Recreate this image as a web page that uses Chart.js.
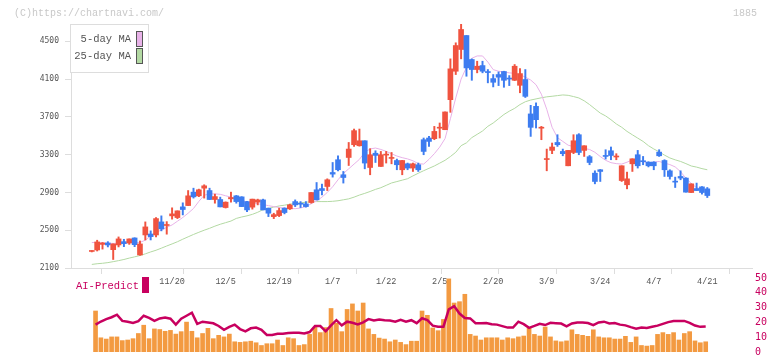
<!DOCTYPE html>
<html><head><meta charset="utf-8">
<script src="https://cdn.jsdelivr.net/npm/chart.js@4.4.1/dist/chart.umd.min.js"></script>
<style>
html,body{margin:0;padding:0;background:#fff;}
#wrap{position:relative;width:772px;height:361px;overflow:hidden;}
canvas{position:absolute;left:0;top:0;}
</style></head><body>
<div id="wrap"><canvas id="cTop" width="772" height="361"></canvas><canvas id="cBot" width="772" height="361"></canvas></div>
<script>
// ---- data ----
const dates = ['10/29','10/30','10/31','11/4','11/5','11/6','11/7','11/10','11/11','11/12','11/13','11/14','11/17','11/18','11/19','11/20','11/21','11/25','11/26','11/27','11/28','12/1','12/2','12/3','12/4','12/5','12/8','12/9','12/10','12/11','12/12','12/15','12/16','12/17','12/18','12/19','12/22','12/23','12/24','12/25','12/26','12/29','12/30','1/5','1/6','1/7','1/8','1/9','1/13','1/14','1/15','1/16','1/19','1/20','1/21','1/22','1/23','1/26','1/27','1/28','1/29','1/30','2/2','2/3','2/4','2/5','2/6','2/9','2/10','2/12','2/13','2/16','2/17','2/18','2/19','2/20','2/24','2/25','2/26','2/27','3/2','3/3','3/4','3/5','3/6','3/9','3/10','3/11','3/12','3/13','3/16','3/17','3/18','3/19','3/23','3/24','3/25','3/26','3/27','3/30','3/31','4/1','4/2','4/3','4/6','4/7','4/8','4/9','4/10','4/13','4/14','4/15','4/16','4/17','4/20','4/21'];
const tickLabels = ['11/20','12/5','12/19','1/7','1/22','2/5','2/20','3/9','3/24','4/7','4/21'];
const priceTicks = [2100,2500,2900,3300,3700,4100,4500];
const volTicks = [0,10,20,30,40,50];

const opens  = [2275,2291,2350,2365,2294,2344,2379,2365,2418,2238,2450,2460,2450,2588,2550,2652,2634,2747,2761,2903,2864,2945,2920,2825,2825,2740,2832,2864,2853,2803,2744,2797,2821,2733,2644,2655,2733,2726,2803,2782,2779,2793,2928,2941,2963,3111,3246,3087,3270,3405,3394,3447,3164,3315,3175,3295,3260,3238,3140,3203,3158,3193,3458,3476,3469,3580,3564,3882,4183,4413,4561,4307,4201,4243,4175,4105,4148,4180,4105,4087,4034,4095,3731,3811,3580,3248,3345,3429,3334,3182,3323,3511,3345,3278,3104,3140,3291,3341,3275,3026,2981,3203,3299,3230,3221,3221,3327,3238,3129,3012,3069,3052,2899,2941,2959,2938];
const highs  = [2285,2394,2370,2379,2355,2429,2404,2408,2420,2386,2588,2493,2634,2652,2591,2737,2705,2790,2920,2945,2935,2981,2945,2882,2850,2800,2903,2868,2855,2806,2829,2829,2829,2735,2680,2733,2737,2776,2821,2803,2803,2899,3005,2988,3044,3217,3288,3122,3429,3571,3571,3447,3363,3341,3334,3334,3323,3253,3240,3211,3211,3211,3476,3493,3599,3635,3752,4314,4484,4680,4561,4314,4289,4289,4201,4148,4176,4183,4137,4254,4211,4201,3822,3848,3599,3359,3423,3511,3359,3345,3511,3522,3394,3291,3129,3143,3352,3381,3310,3182,3115,3256,3345,3281,3225,3225,3352,3246,3140,3062,3129,3055,2991,2999,2962,2952];
const lows   = [2270,2280,2300,2323,2190,2323,2326,2350,2326,2235,2397,2397,2429,2493,2458,2617,2623,2662,2761,2840,2855,2840,2825,2786,2747,2735,2797,2786,2750,2697,2723,2768,2715,2644,2623,2644,2673,2719,2750,2740,2744,2786,2821,2874,2920,3062,3129,2999,3185,3387,3390,3150,3087,3217,3175,3211,3203,3140,3087,3140,3122,3122,3299,3387,3458,3476,3564,3748,4148,4314,4130,4087,4166,4166,4060,4017,4031,4013,4031,4084,3955,3905,3493,3582,3458,3129,3310,3387,3288,3182,3310,3299,3281,3193,2991,3016,3253,3246,3246,3016,2938,3122,3158,3193,3170,3140,3281,3069,3041,2952,3034,2903,2899,2920,2882,2846];
const closes = [2280,2376,2365,2344,2355,2408,2358,2408,2347,2355,2535,2432,2623,2514,2560,2673,2705,2719,2864,2853,2928,2970,2825,2856,2747,2797,2846,2803,2750,2715,2829,2821,2715,2680,2665,2708,2687,2768,2768,2775,2750,2899,2821,2920,3034,3094,3140,3058,3359,3554,3447,3211,3299,3292,3299,3300,3265,3193,3238,3158,3203,3140,3334,3440,3546,3590,3752,4208,4455,4625,4218,4201,4236,4183,4169,4066,4120,4087,4100,4236,4158,3917,3589,3670,3590,3253,3381,3405,3310,3345,3447,3323,3394,3217,3016,3122,3281,3291,3281,3182,3044,3256,3182,3225,3182,3182,3288,3140,3069,3009,3052,2903,2991,2920,2899,2867];

const ma5  = [2370,2370,2365,2362,2360,2362,2365,2366,2368,2370,2395,2440,2480,2500,2530,2556,2595,2635,2680,2730,2805,2870,2885,2885,2880,2865,2850,2830,2815,2800,2790,2780,2772,2760,2750,2740,2735,2730,2728,2735,2750,2780,2810,2850,2900,2960,3034,3100,3150,3200,3250,3325,3360,3370,3355,3335,3310,3285,3268,3255,3235,3205,3200,3250,3310,3380,3470,3680,3900,4100,4225,4320,4345,4345,4280,4200,4183,4175,4166,4160,4148,4120,4090,4040,3940,3780,3590,3480,3440,3400,3385,3375,3365,3355,3325,3280,3240,3215,3205,3200,3220,3245,3235,3225,3215,3220,3228,3210,3195,3170,3120,3050,2995,2950,2935,2920];
const ma25 = [2138,2145,2150,2157,2167,2178,2190,2205,2218,2232,2250,2270,2288,2310,2333,2355,2378,2405,2430,2455,2478,2500,2520,2543,2563,2580,2597,2625,2640,2652,2668,2690,2718,2730,2745,2757,2765,2775,2784,2790,2796,2802,2803,2803,2803,2806,2812,2822,2832,2850,2872,2890,2910,2932,2950,2975,3000,3015,3030,3045,3075,3103,3130,3155,3180,3210,3240,3280,3325,3395,3425,3480,3515,3550,3600,3635,3680,3725,3760,3790,3830,3860,3878,3890,3902,3912,3918,3925,3932,3928,3915,3900,3870,3830,3785,3740,3710,3670,3625,3590,3546,3510,3475,3440,3395,3360,3330,3295,3265,3245,3228,3205,3180,3168,3152,3140];

const volume = [null,27.7,9.6,8.75,10.2,10.2,7.7,8.1,9.0,12.5,18.1,9.0,15.6,15.2,14.0,14.6,12.1,13.75,20.2,14.0,9.6,12.5,16.0,9.0,11.25,10.2,12.1,6.9,6.5,6.9,7.3,6.25,4.4,5.6,5.6,8.1,4.4,9.6,9.0,4.4,5.0,11.9,16.7,13.1,16.5,29.4,19.4,13.75,28.75,32.5,27.7,33.1,15.6,11.9,9.4,8.75,6.9,8.1,6.5,5.0,7.3,7.3,27.7,24.8,16.25,14.4,22.0,49.4,33.1,34.0,39.0,11.9,10.8,8.1,9.6,9.6,9.6,8.1,9.6,9.0,10.2,10.8,16.25,11.9,10.8,16.9,10.2,7.5,6.9,7.5,15.0,11.9,11.25,10.6,15.0,10.2,9.6,9.6,8.75,8.75,10.6,6.5,10.2,4.4,4.0,4.4,11.9,13.1,11.9,13.1,8.1,12.5,13.75,7.5,6.25,6.9];
const aiPredict = [null,18.5,20.6,22.2,23.5,25.2,21,20.4,19.6,20.8,24.5,23,21,22.7,23.3,22.5,18.5,22.5,24.5,26.5,19,20.5,20.0,19.4,17.6,15,17,18.5,15.5,14,16,16.5,15,11.5,11.5,12.3,12.3,12.8,13,13,12.5,13.5,17.5,17.5,14,18,21.5,18,20.5,19.8,18.6,20,22.2,21.3,22,21.5,21.3,20.5,21.8,20.5,21.5,19.5,22.8,21.5,17.8,17.1,17.1,28.8,31,26,23,22.7,19.5,19.5,19.6,18.7,18.5,17.5,16.5,16.5,20.5,18.8,16.3,17.6,19,18.2,19.7,19.5,19.2,17.4,19.3,20,20,19.6,18.2,20,20.5,19.3,19.6,18.5,18,16.8,15.8,16.6,16.2,17,17.8,19,20.2,20.9,21,21,19.7,17.9,17,17.2];

// ---- style ----
const RED = '#f0533f', BLUE = '#3d7cf0';
const PINK = '#e8b2e8', GREEN = '#b3d9a3';
const CRIMSON = '#c8005f', ORANGE = '#f39a41';
const MONO = '"Liberation Mono", "DejaVu Sans Mono", monospace';
const MONO2 = '"DejaVu Sans Mono", monospace';
const XMIN = -3.886, XMAX = 123.35;
const labelIdx = tickLabels.map(l => dates.indexOf(l));
const candleColors = closes.map((c, i) => c >= opens[i] ? RED : BLUE);

const textPlugin = {
  id: 'texts',
  afterDraw(chart) {
    const ctx = chart.ctx;
    ctx.save();
    ctx.textBaseline = 'middle';
    ctx.font = '10px ' + MONO;
    ctx.fillStyle = '#c8c8c8';
    ctx.textAlign = 'left';
    ctx.fillText('(C)https://chartnavi.com/', 14, 13);
    ctx.textAlign = 'right';
    ctx.fillText('1885', 757, 13);
    // MA legend
    ctx.fillStyle = '#fff';
    ctx.fillRect(70.5, 24.5, 78, 48);
    ctx.strokeStyle = '#dddddd';
    ctx.lineWidth = 1;
    ctx.strokeRect(70.5, 24.5, 78, 48);
    ctx.font = '10.5px ' + MONO;
    ctx.fillStyle = '#555';
    ctx.textAlign = 'right';
    ctx.fillText('5-day MA', 131, 39);
    ctx.fillText('25-day MA', 131, 56);
    ctx.strokeStyle = '#555';
    ctx.fillStyle = PINK;
    ctx.fillRect(136.5, 31.5, 6, 15); ctx.strokeRect(136.5, 31.5, 6, 15);
    ctx.fillStyle = GREEN;
    ctx.fillRect(136.5, 48.5, 6, 15); ctx.strokeRect(136.5, 48.5, 6, 15);
    // AI-Predict legend
    ctx.font = '10.5px ' + MONO;
    ctx.textAlign = 'left';
    ctx.fillStyle = CRIMSON;
    ctx.fillText('AI-Predict', 76, 286);
    ctx.fillRect(142, 277, 7, 16);
    ctx.restore();
  }
};

new Chart(document.getElementById('cTop'), {
  type: 'bar',
  data: {
    datasets: [
      { type: 'line', label: '5-day MA', data: ma5.map((v, i) => ({x: i, y: v})), borderColor: PINK, borderWidth: 1, pointRadius: 0, tension: 0, order: 5 },
      { type: 'line', label: '25-day MA', data: ma25.map((v, i) => ({x: i, y: v})), borderColor: GREEN, borderWidth: 1, pointRadius: 0, tension: 0, order: 6 },
      { label: 'wick', data: lows.map((v, i) => ({x: i, y: [v, highs[i]]})), backgroundColor: candleColors, barThickness: 1.3, grouped: false, order: 2 },
      { label: 'body', data: opens.map((v, i) => ({x: i, y: [v, closes[i]]})), backgroundColor: candleColors, barThickness: 5, minBarLength: 1, grouped: false, order: 1 }
    ]
  },
  options: {
    responsive: false, animation: false, events: [],
    layout: { padding: { top: 24, right: 20, left: 0, bottom: 0 } },
    plugins: { legend: { display: false }, tooltip: { enabled: false } },
    scales: {
      x: {
        type: 'linear', min: XMIN, max: XMAX, offset: false,
        afterBuildTicks: s => {
          const t = [];
          for (let k = 0; k <= 11; k++) t.push({value: XMIN + k * (XMAX - XMIN) / 11});
          labelIdx.forEach(v => t.push({value: v}));
          t.sort((a, b) => a.value - b.value);
          s.ticks = t;
        },
        ticks: { autoSkip: false, maxRotation: 0, padding: 3, color: '#555', font: { family: MONO, size: 8.5 },
          callback: v => { const j = labelIdx.indexOf(v); return j >= 0 ? tickLabels[j] : ''; } },
        grid: { drawOnChartArea: false, tickLength: 6, color: c => (c.tick && labelIdx.includes(c.tick.value)) ? 'rgba(0,0,0,0)' : '#dddddd' },
        border: { color: '#dddddd' },
        afterFit: s => { s.height = 361 - 268; }
      },
      y: {
        type: 'linear', min: 2100, max: 4683,
        afterBuildTicks: s => { s.ticks = priceTicks.map(v => ({value: v})); },
        ticks: { padding: 6, color: '#555', font: { family: MONO2, size: 8 }, callback: v => String(v) },
        grid: { drawOnChartArea: false, tickLength: 6, color: '#dddddd' },
        border: { color: '#dddddd' },
        afterFit: s => { s.width = 71; }
      }
    }
  },
  plugins: [textPlugin]
});

new Chart(document.getElementById('cBot'), {
  type: 'bar',
  data: {
    datasets: [
      { type: 'line', label: 'AI-Predict', data: aiPredict.map((v, i) => ({x: i, y: v})), borderColor: CRIMSON, borderWidth: 2.5, pointRadius: 0, tension: 0, order: 1 },
      { label: 'volume', data: volume.map((v, i) => ({x: i, y: v})), backgroundColor: ORANGE, barThickness: 4, order: 2 }
    ]
  },
  options: {
    responsive: false, animation: false, events: [],
    layout: { padding: { top: 278, right: 0, left: 71, bottom: 3 } },
    plugins: { legend: { display: false }, tooltip: { enabled: false } },
    scales: {
      x: { type: 'linear', min: XMIN + 0.3, max: XMAX + 0.3, offset: false, display: false },
      y: {
        position: 'right', min: 0, max: 50,
        afterBuildTicks: s => { s.ticks = volTicks.map(v => ({value: v})); },
        ticks: { padding: 3, color: CRIMSON, font: { family: MONO2, size: 10 }, callback: v => String(v) },
        grid: { display: false, drawTicks: false },
        border: { display: false },
        afterFit: s => { s.width = 20; }
      }
    }
  }
});
</script>
</body></html>
